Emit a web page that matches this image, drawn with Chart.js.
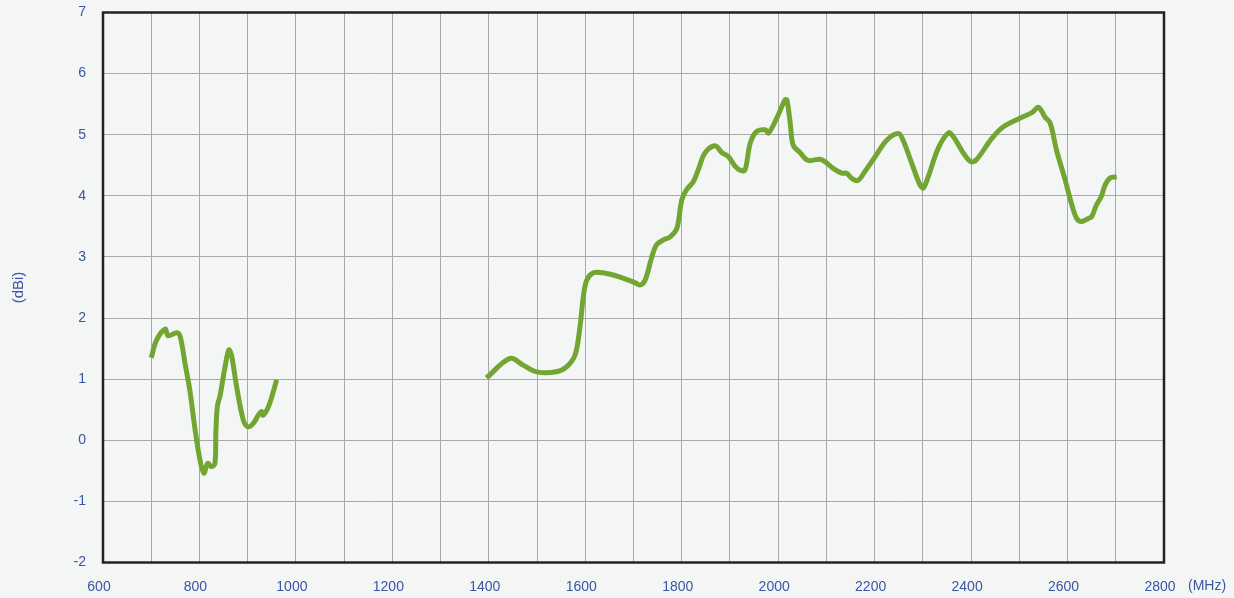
<!DOCTYPE html>
<html>
<head>
<meta charset="utf-8">
<script src="https://cdn.jsdelivr.net/npm/chart.js@4/dist/chart.umd.min.js"></script>
<style>
  html, body { margin: 0; padding: 0; background: #f4f6f6; }
  #wrap { width: 1234px; height: 598px; position: relative; }
</style>
</head>
<body>
<div id="wrap"><canvas id="gain-chart"></canvas></div>
<script>
// Gain curve, low band (MHz / dBi)
const lowFreq = [700, 711, 729, 735, 753, 760, 770, 780, 791, 801, 809, 817, 825, 832, 834, 837, 843, 853, 861, 867, 877, 891, 901, 912, 922, 929, 932, 943, 953, 960];
const lowGain = [1.35, 1.64, 1.82, 1.71, 1.76, 1.70, 1.26, 0.82, 0.17, -0.32, -0.54, -0.38, -0.43, -0.38, 0.11, 0.55, 0.74, 1.20, 1.48, 1.37, 0.88, 0.33, 0.22, 0.28, 0.41, 0.47, 0.41, 0.55, 0.79, 0.99];

// Gain curve, high band (MHz / dBi)
const highFreq = [1395, 1444, 1471, 1499, 1540, 1561, 1579, 1589, 1596, 1603, 1617, 1637, 1672, 1703, 1713, 1724, 1738, 1748, 1762, 1776, 1790, 1800, 1810, 1824, 1834, 1848, 1869, 1883, 1897, 1910, 1921, 1931, 1942, 1955, 1973, 1980, 1997, 2014, 2018, 2025, 2031, 2045, 2062, 2087, 2097, 2114, 2132, 2142, 2152, 2165, 2180, 2201, 2225, 2249, 2259, 2277, 2294, 2301, 2311, 2332, 2353, 2363, 2384, 2399, 2411, 2443, 2467, 2501, 2526, 2539, 2546, 2553, 2564, 2577, 2595, 2609, 2619, 2629, 2643, 2650, 2660, 2670, 2678, 2688, 2702];
const highGain = [1.02, 1.34, 1.23, 1.12, 1.12, 1.20, 1.40, 1.86, 2.35, 2.62, 2.74, 2.74, 2.67, 2.58, 2.54, 2.62, 3.00, 3.20, 3.28, 3.33, 3.47, 3.93, 4.10, 4.23, 4.42, 4.70, 4.82, 4.71, 4.64, 4.49, 4.42, 4.42, 4.86, 5.05, 5.08, 5.03, 5.27, 5.57, 5.57, 5.19, 4.83, 4.71, 4.58, 4.60, 4.56, 4.45, 4.37, 4.37, 4.29, 4.25, 4.40, 4.64, 4.91, 5.02, 4.91, 4.53, 4.18, 4.13, 4.31, 4.78, 5.03, 4.97, 4.70, 4.56, 4.59, 4.94, 5.13, 5.27, 5.36, 5.45, 5.39, 5.29, 5.19, 4.75, 4.26, 3.85, 3.63, 3.58, 3.63, 3.66, 3.85, 3.99, 4.18, 4.29, 4.31];

// Axis ranges and titles
const xMin = 600, xMax = 2800, xStep = 100, xLabelStep = 200;
const yMin = -2, yMax = 7, yStep = 1;
const xUnit = '(MHz)';
const yUnit = '(dBi)';

const TEXT_COLOR = '#3a55a2';
const LINE_COLOR = '#73a532';
const GRID_COLOR = '#a9a9a9';
const FONT = { family: 'Liberation Sans, Arial, sans-serif', size: 14 };

function toPoints(xs, ys) {
  return xs.map((x, i) => ({ x: x, y: ys[i] }));
}

// Frame around the plot and the unit label right of the x axis
const framePlugin = {
  id: 'frame',
  afterDraw(chart) {
    const { ctx, chartArea: a } = chart;
    ctx.save();
    ctx.strokeStyle = '#222';
    ctx.lineWidth = 2.5;
    ctx.strokeRect(a.left, a.top, a.right - a.left, a.bottom - a.top);
    ctx.fillStyle = TEXT_COLOR;
    ctx.font = `${FONT.size}px ${FONT.family}`;
    ctx.textAlign = 'left';
    ctx.textBaseline = 'middle';
    ctx.fillText(xUnit, a.right + 24, a.bottom + 24);
    ctx.restore();
  }
};

const lineStyle = {
  showLine: true,
  borderColor: LINE_COLOR,
  borderWidth: 5,
  pointRadius: 0,
  tension: 0.35,
  fill: false
};

new Chart(document.getElementById('gain-chart'), {
  type: 'scatter',
  data: {
    datasets: [
      Object.assign({ label: 'low', data: toPoints(lowFreq, lowGain) }, lineStyle),
      Object.assign({ label: 'high', data: toPoints(highFreq, highGain) }, lineStyle)
    ]
  },
  options: {
    responsive: true,
    maintainAspectRatio: false,
    animation: false,
    layout: { autoPadding: false, padding: { left: 0, right: 70, top: 12.5, bottom: 0 } },
    plugins: {
      legend: { display: false },
      tooltip: { enabled: false }
    },
    scales: {
      x: {
        type: 'linear',
        min: xMin,
        max: xMax,
        afterFit(scale) {
          scale.height = 35.5;
          scale.paddingLeft = 0;
          scale.paddingRight = 0;
        },
        grid: { color: GRID_COLOR, lineWidth: 1, drawTicks: false },
        border: { display: false },
        ticks: {
          stepSize: xStep,
          autoSkip: false,
          maxRotation: 0,
          padding: 16,
          labelOffset: -4,
          color: TEXT_COLOR,
          font: FONT,
          callback: v => (v % xLabelStep === 0 ? String(v) : '')
        }
      },
      y: {
        min: yMin,
        max: yMax,
        afterFit(scale) {
          scale.width = 103;
          scale.paddingTop = 0;
          scale.paddingBottom = 0;
        },
        grid: { color: GRID_COLOR, lineWidth: 1, drawTicks: false },
        border: { display: false },
        title: {
          display: true,
          text: yUnit,
          color: TEXT_COLOR,
          font: { family: FONT.family, size: 15 },
          padding: { top: 10, bottom: 0 }
        },
        ticks: {
          stepSize: yStep,
          padding: 17,
          color: TEXT_COLOR,
          font: FONT
        }
      }
    }
  },
  plugins: [framePlugin]
});
</script>
</body>
</html>
